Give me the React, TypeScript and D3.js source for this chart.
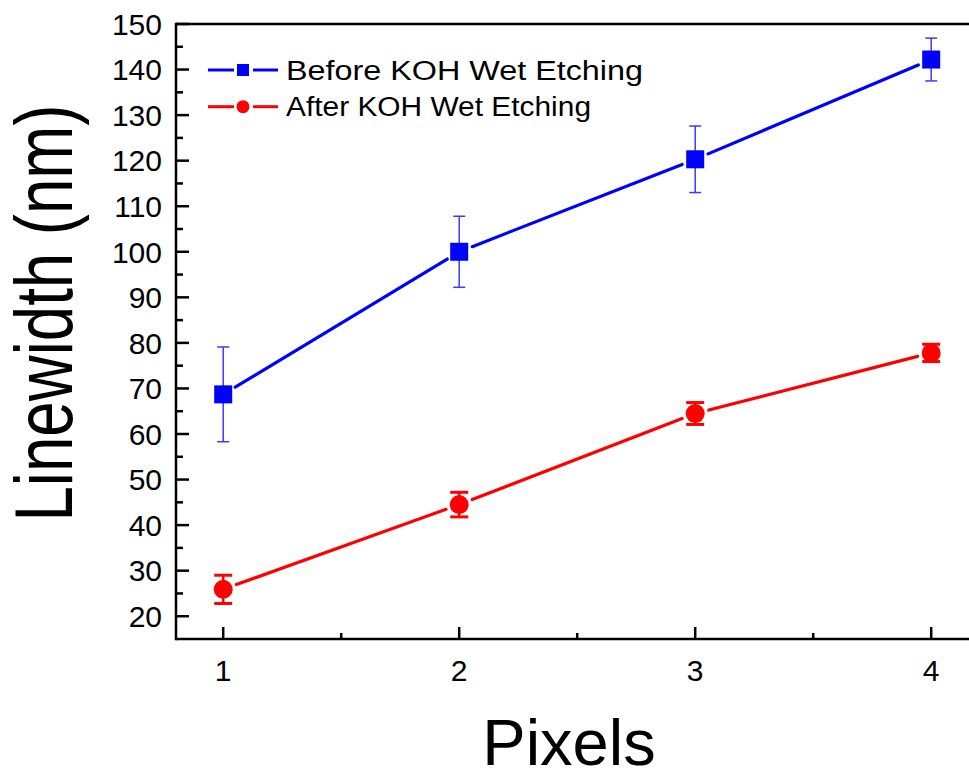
import React from "react";
import * as d3 from "d3";

const pixels = [1, 2, 3, 4];
const beforeValues = [68.7, 100.0, 120.3, 142.2];
const beforeErrors = [10.4, 7.8, 7.3, 4.7];
const afterValues = [25.9, 44.5, 64.5, 77.8];
const afterErrors = [3.1, 2.7, 2.4, 1.9];
const yTicks = [20, 30, 40, 50, 60, 70, 80, 90, 100, 110, 120, 130, 140, 150];
const yMinorTicks = [25, 35, 45, 55, 65, 75, 85, 95, 105, 115, 125, 135, 145];
const xTicks = [1, 2, 3, 4];
const xMinorTicks = [1.5, 2.5, 3.5];
const seriesNames = ["Before KOH Wet Etching", "After KOH Wet Etching"];

const W = 969;
const H = 774;
const left = 176;
const top = 24;
const bottom = 639;

export default function App() {
  const x = d3.scaleLinear().domain([0.8, 4.2]).range([left, left + 3.4 * 236]);
  const y = d3.scaleLinear().domain([15, 150]).range([bottom, top]);
  const font = "Arial, 'Liberation Sans', sans-serif";

  const segs = (vals: number[], gap: number) => {
    const out: { x1: number; y1: number; x2: number; y2: number }[] = [];
    for (let i = 0; i < vals.length - 1; i++) {
      const ax = x(pixels[i]), ay = y(vals[i]);
      const bx = x(pixels[i + 1]), by = y(vals[i + 1]);
      const len = Math.hypot(bx - ax, by - ay);
      const ux = (bx - ax) / len, uy = (by - ay) / len;
      out.push({ x1: ax + ux * gap, y1: ay + uy * gap, x2: bx - ux * gap, y2: by - uy * gap });
    }
    return out;
  };

  const blue = "#0000ff";
  const red = "#ff0000";

  return (
    <svg width={W} height={H} style={{ position: "absolute", left: 0, top: 0, background: "#fff" }} fontFamily={font}>
      {/* axes */}
      <line x1={left} y1={top} x2={W + 10} y2={top} stroke="#000" strokeWidth={2.5} />
      <line x1={left} y1={top - 1.2} x2={left} y2={bottom + 1.2} stroke="#000" strokeWidth={2.5} />
      <line x1={left} y1={bottom} x2={W + 10} y2={bottom} stroke="#000" strokeWidth={2.5} />
      {yTicks.map((t) => (
        <g key={"y" + t}>
          <line x1={left} x2={left + 13} y1={y(t)} y2={y(t)} stroke="#000" strokeWidth={2.5} />
          <text x={162} y={y(t)} dy="0.36em" textAnchor="end" fontSize={30}>{t}</text>
        </g>
      ))}
      {yMinorTicks.map((t) => (
        <line key={"ym" + t} x1={left} x2={left + 7} y1={y(t)} y2={y(t)} stroke="#000" strokeWidth={2.5} />
      ))}
      {xTicks.map((t) => (
        <g key={"x" + t}>
          <line x1={x(t)} x2={x(t)} y1={bottom} y2={bottom - 12} stroke="#000" strokeWidth={2.5} />
          <text x={x(t)} y={681} textAnchor="middle" fontSize={30}>{t}</text>
        </g>
      ))}
      {xMinorTicks.map((t) => (
        <line key={"xm" + t} x1={x(t)} x2={x(t)} y1={bottom} y2={bottom - 6} stroke="#000" strokeWidth={2.5} />
      ))}
      {/* axis titles */}
      <text x={569} y={765} textAnchor="middle" fontSize={65}>Pixels</text>
      <text transform="translate(72,313) rotate(-90)" textAnchor="middle" fontSize={82} textLength={417} lengthAdjust="spacingAndGlyphs">Linewidth (nm)</text>

      {/* before series */}
      {segs(beforeValues, 14).map((s, i) => (
        <line key={"bs" + i} {...s} stroke={blue} strokeWidth={3.2} strokeLinecap="round" />
      ))}
      {pixels.map((p, i) => (
        <g key={"be" + i}>
          <line x1={x(p)} x2={x(p)} y1={y(beforeValues[i] + beforeErrors[i])} y2={y(beforeValues[i] - beforeErrors[i])} stroke="#3a3aff" strokeWidth={1.5} />
          <line x1={x(p) - 6} x2={x(p) + 6} y1={y(beforeValues[i] + beforeErrors[i])} y2={y(beforeValues[i] + beforeErrors[i])} stroke="#3a3aff" strokeWidth={1.5} />
          <line x1={x(p) - 6} x2={x(p) + 6} y1={y(beforeValues[i] - beforeErrors[i])} y2={y(beforeValues[i] - beforeErrors[i])} stroke="#3a3aff" strokeWidth={1.5} />
          <rect x={x(p) - 9} y={y(beforeValues[i]) - 9} width={18} height={18} fill={blue} />
        </g>
      ))}
      {/* after series */}
      {segs(afterValues, 14).map((s, i) => (
        <line key={"as" + i} {...s} stroke={red} strokeWidth={3.2} strokeLinecap="round" />
      ))}
      {pixels.map((p, i) => (
        <g key={"ae" + i}>
          <line x1={x(p)} x2={x(p)} y1={y(afterValues[i] + afterErrors[i])} y2={y(afterValues[i] - afterErrors[i])} stroke={red} strokeWidth={2.5} />
          <line x1={x(p) - 9} x2={x(p) + 9} y1={y(afterValues[i] + afterErrors[i])} y2={y(afterValues[i] + afterErrors[i])} stroke={red} strokeWidth={3} />
          <line x1={x(p) - 9} x2={x(p) + 9} y1={y(afterValues[i] - afterErrors[i])} y2={y(afterValues[i] - afterErrors[i])} stroke={red} strokeWidth={3} />
          <circle cx={x(p)} cy={y(afterValues[i])} r={9.5} fill={red} />
        </g>
      ))}

      {/* legend */}
      <g>
        <line x1={208} x2={234} y1={70} y2={70} stroke={blue} strokeWidth={3} />
        <line x1={253} x2={278} y1={70} y2={70} stroke={blue} strokeWidth={3} />
        <rect x={237} y={64} width={12} height={12} fill={blue} />
        <text x={286} y={70} dy="0.36em" fontSize={27} textLength={357} lengthAdjust="spacingAndGlyphs">{seriesNames[0]}</text>
        <line x1={208} x2={234} y1={106.7} y2={106.7} stroke={red} strokeWidth={3} />
        <line x1={253} x2={278} y1={106.7} y2={106.7} stroke={red} strokeWidth={3} />
        <circle cx={243} cy={106.7} r={6.5} fill={red} />
        <text x={286} y={106.7} dy="0.36em" fontSize={27} textLength={305} lengthAdjust="spacingAndGlyphs">{seriesNames[1]}</text>
      </g>
    </svg>
  );
}
